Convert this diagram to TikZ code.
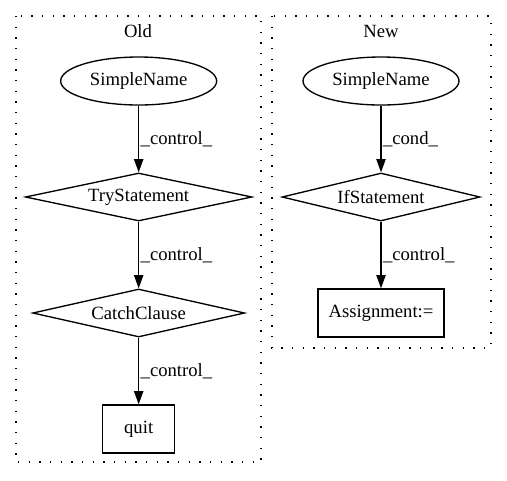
\documentclass[tikz,border=0pt]{standalone}
\usepackage{fontspec}
\setmainfont{Liberation Serif}
\usetikzlibrary{positioning,shapes.geometric,arrows.meta}

\tikzset{
  gv/.style={font=\fontsize{14pt}{16pt}\selectfont},
  cfgell/.style={gv, draw, ellipse, line width=1pt, minimum width=117pt, minimum height=36pt, inner sep=0pt},
  cfgdia/.style={gv, draw, diamond, aspect=5, line width=1pt, minimum height=36pt, inner sep=0pt},
  cfgbox/.style={gv, draw, rectangle, line width=1pt, minimum height=36pt, inner sep=0pt},
  cluster/.style={line width=0.8pt, dash pattern=on 1pt off 7pt},
  flow/.style={-{Triangle[length=10pt,width=7pt]}, line width=1pt},
  elabel/.style={gv, right, inner sep=1pt},
}

\begin{document}
\begin{tikzpicture}[x=1pt, y=-1pt, node distance=87pt, on grid]
      \useasboundingbox (0,0) rectangle (380.25,360);

      % Old
      \draw[cluster] (12,12) rectangle (195.75,346.5);
      \node[gv] (oldname) at (103.5,23.25) {Old};

      \node[cfgell] (sn1) at (104,60.75) {SimpleName};
      \node[cfgdia, minimum width=170pt, below=of sn1] (try) {TryStatement};
      \node[cfgdia, minimum width=159pt, below=of try] (catch) {CatchClause};
      \node[cfgbox, minimum width=54pt, below=of catch] (quit) {quit};

      \draw[flow] (sn1) -- (try) node[midway, elabel] {\_control\_};
      \draw[flow] (try) -- (catch) node[midway, elabel] {\_control\_};
      \draw[flow] (catch) -- (quit) node[midway, elabel] {\_control\_};

      % New
      \draw[cluster] (204,12) rectangle (368.25,261);
      \node[gv] (newname) at (285.75,23.25) {New};

      \node[cfgell] (sn2) at (285.75,60.75) {SimpleName};
      \node[cfgdia, minimum width=148.5pt, below=of sn2] (ifst) {IfStatement};
      \node[cfgbox, minimum width=94.5pt, below=of ifst] (assign) {Assignment:=};

      \draw[flow] (sn2) -- (ifst) node[midway, elabel] {\_cond\_};
      \draw[flow] (ifst) -- (assign) node[midway, elabel] {\_control\_};
\end{tikzpicture}
\end{document}
